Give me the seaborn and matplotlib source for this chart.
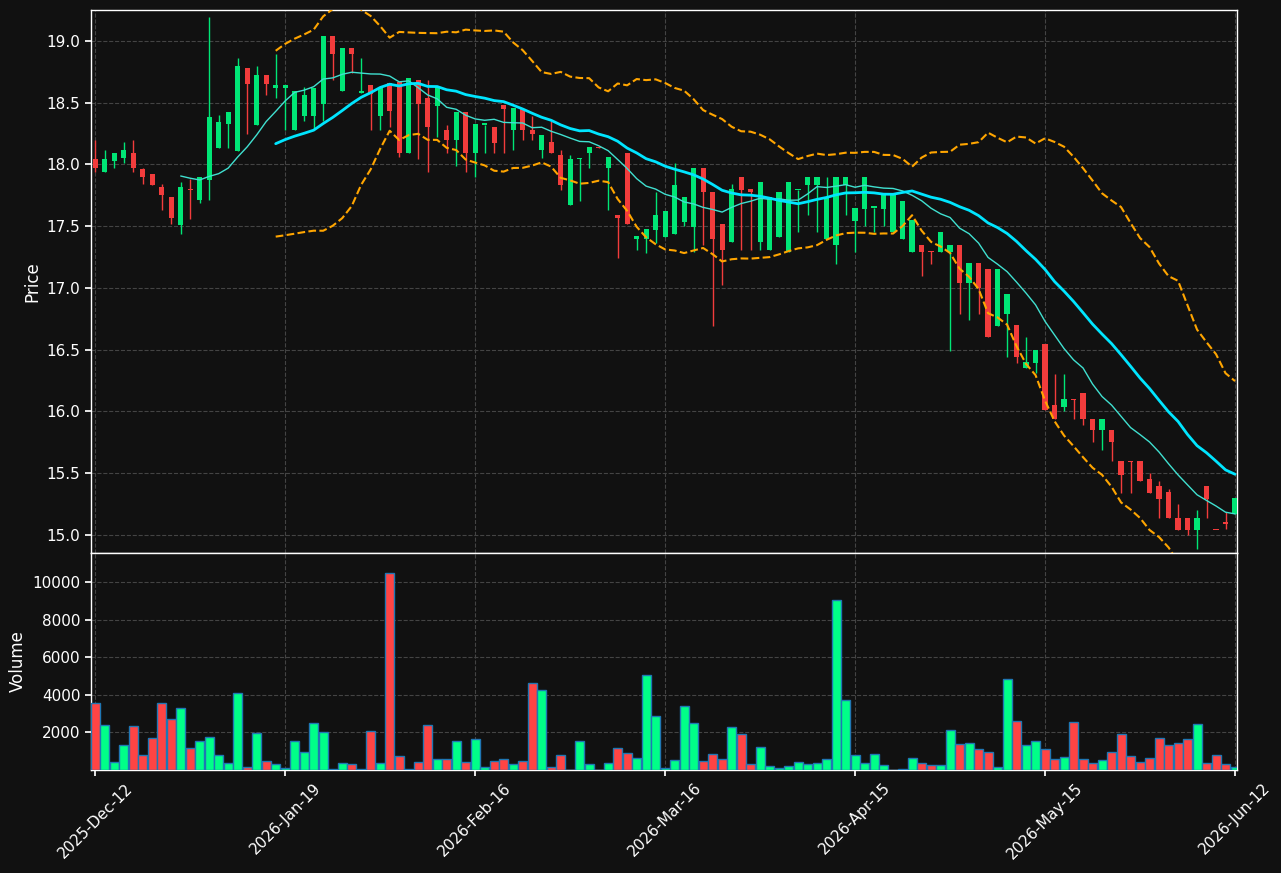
import matplotlib
matplotlib.use("Agg")
import matplotlib.pyplot as plt
import numpy as np
import pandas as pd
import seaborn as sns

# OHLC, one row per session
opens = [
    18.04, 17.94, 18.03, 18.05, 18.09, 17.96, 17.92, 17.82, 17.74, 17.51,
    17.80, 17.71, 17.87, 18.13, 18.33, 18.11, 18.78, 18.32, 18.72, 18.62,
    18.62, 18.28, 18.39, 18.39, 18.49, 19.04, 18.59, 18.94, 18.58, 18.64,
    18.39, 18.66, 18.67, 18.09, 18.68, 18.54, 18.47, 18.28, 18.20, 18.42,
    18.09, 18.32, 18.30, 18.48, 18.28, 18.45, 18.28, 18.12, 18.18, 18.08,
    17.67, 18.04, 18.09, 18.14, 17.97, 17.59, 18.09, 17.40, 17.40, 17.47,
    17.41, 17.44, 17.53, 17.49, 17.97, 17.78, 17.52, 17.37, 17.90, 17.80,
    17.37, 17.31, 17.41, 17.29, 17.79, 17.83, 17.83, 17.40, 17.35, 17.83,
    17.54, 17.64, 17.65, 17.64, 17.45, 17.40, 17.29, 17.35, 17.30, 17.29,
    17.29, 17.35, 17.04, 17.20, 17.15, 16.69, 16.79, 16.70, 16.35, 16.39,
    16.55, 16.05, 16.04, 16.10, 16.15, 15.94, 15.85, 15.85, 15.60, 15.60,
    15.60, 15.45, 15.40, 15.35, 15.14, 15.14, 15.04, 15.40, 15.05, 15.10,
    15.17,
]
highs = [
    18.20, 18.12, 18.09, 18.18, 18.20, 17.97, 17.92, 17.84, 17.74, 17.86,
    17.88, 17.90, 19.19, 18.40, 18.42, 18.86, 18.78, 18.80, 18.72, 18.89,
    18.64, 18.59, 18.63, 18.62, 19.04, 19.04, 18.94, 18.94, 18.86, 18.64,
    18.63, 18.66, 18.67, 18.70, 18.68, 18.68, 18.63, 18.32, 18.42, 18.42,
    18.33, 18.32, 18.30, 18.48, 18.46, 18.45, 18.39, 18.24, 18.35, 18.12,
    18.08, 18.05, 18.14, 18.14, 18.06, 17.59, 18.09, 17.42, 17.48, 17.78,
    17.62, 18.01, 17.74, 17.97, 17.97, 17.78, 17.52, 17.84, 17.90, 17.80,
    17.86, 17.74, 17.78, 17.86, 17.79, 17.90, 17.90, 17.90, 17.90, 17.90,
    17.65, 17.90, 17.65, 17.76, 17.76, 17.70, 17.55, 17.35, 17.30, 17.45,
    17.35, 17.35, 17.20, 17.20, 17.15, 17.15, 16.95, 16.70, 16.60, 16.50,
    16.55, 16.30, 16.30, 16.10, 16.15, 15.94, 15.94, 15.85, 15.60, 15.60,
    15.60, 15.50, 15.44, 15.37, 15.25, 15.14, 15.20, 15.40, 15.05, 15.19,
    15.30,
]
lows = [
    17.94, 17.94, 17.97, 18.01, 17.94, 17.84, 17.83, 17.63, 17.52, 17.44,
    17.56, 17.69, 17.71, 18.13, 18.13, 18.11, 18.25, 18.32, 18.56, 18.54,
    18.28, 18.28, 18.35, 18.29, 18.35, 18.68, 18.59, 18.74, 18.58, 18.28,
    18.28, 18.30, 18.06, 18.09, 18.04, 17.94, 18.22, 18.09, 17.99, 17.94,
    17.90, 18.09, 18.09, 18.09, 18.12, 18.20, 18.20, 18.05, 18.09, 17.79,
    17.67, 17.70, 17.97, 18.13, 17.63, 17.24, 17.52, 17.31, 17.28, 17.36,
    17.41, 17.44, 17.50, 17.29, 17.35, 16.69, 17.02, 17.37, 17.31, 17.31,
    17.31, 17.31, 17.41, 17.29, 17.45, 17.59, 17.45, 17.40, 17.19, 17.59,
    17.29, 17.50, 17.45, 17.50, 17.45, 17.40, 17.29, 17.10, 17.19, 17.29,
    16.49, 16.79, 16.74, 16.79, 16.60, 16.69, 16.44, 16.39, 16.35, 16.31,
    16.01, 15.94, 16.00, 15.94, 15.89, 15.75, 15.69, 15.60, 15.34, 15.34,
    15.44, 15.34, 15.14, 15.14, 15.04, 15.00, 14.89, 15.14, 15.05, 15.05,
    15.17,
]
closes = [
    17.97, 18.04, 18.09, 18.12, 17.97, 17.90, 17.83, 17.75, 17.57, 17.82,
    17.79, 17.90, 18.38, 18.34, 18.42, 18.80, 18.65, 18.72, 18.65, 18.64,
    18.64, 18.59, 18.56, 18.62, 19.04, 18.89, 18.94, 18.89, 18.58, 18.57,
    18.63, 18.43, 18.09, 18.70, 18.49, 18.30, 18.63, 18.20, 18.42, 18.09,
    18.33, 18.32, 18.17, 18.45, 18.46, 18.28, 18.25, 18.24, 18.09, 17.83,
    18.04, 18.05, 18.14, 18.13, 18.06, 17.57, 17.52, 17.42, 17.48, 17.59,
    17.62, 17.83, 17.74, 17.97, 17.78, 17.40, 17.31, 17.80, 17.79, 17.78,
    17.86, 17.74, 17.78, 17.86, 17.79, 17.90, 17.90, 17.73, 17.90, 17.90,
    17.65, 17.90, 17.65, 17.76, 17.76, 17.70, 17.55, 17.29, 17.29, 17.45,
    17.35, 17.04, 17.20, 17.00, 16.60, 17.15, 16.95, 16.44, 16.40, 16.50,
    16.01, 15.94, 16.10, 16.09, 15.94, 15.85, 15.94, 15.75, 15.49, 15.59,
    15.44, 15.34, 15.29, 15.14, 15.04, 15.04, 15.14, 15.29, 15.04, 15.09,
    15.30,
]
volumes = [
    3550, 2380, 410, 1310, 2330, 780, 1690, 3550, 2700, 3290,
    1150, 1530, 1740, 780, 355, 4090, 140, 1950, 460, 300,
    90, 1530, 940, 2490, 2010, 70, 355, 300, 70, 2060,
    355, 10480, 730, 70, 410, 2380, 570, 570, 1530, 410,
    1630, 140, 460, 570, 300, 460, 4620, 4240, 140, 780,
    10, 1530, 300, 10, 355, 1160, 890, 620, 5060, 2860,
    90, 515, 3390, 2490, 460, 835, 570, 2270, 1900, 300,
    1210, 195, 90, 195, 410, 300, 355, 570, 9040, 3710,
    780, 355, 835, 250, 0, 30, 620, 355, 250, 250,
    2110, 1370, 1420, 1100, 940, 140, 4830, 2590, 1310, 1530,
    1100, 570, 675, 2540, 570, 355, 515, 940, 1900, 730,
    410, 620, 1690, 1310, 1420, 1630, 2430, 355, 780, 300,
    140,
]
tick_labels = ["2025-Dec-12", "2026-Jan-19", "2026-Feb-16", "2026-Mar-16",
               "2026-Apr-15", "2026-May-15", "2026-Jun-12"]

BG = "#111111"
UP = "#00e676"
DOWN = "#f23c3c"
VOL_UP = "#00ff88"
VOL_DOWN = "#ff4444"

df = pd.DataFrame({"open": opens, "high": highs, "low": lows,
                   "close": closes, "volume": volumes})
df["idx"] = np.arange(len(df))
df["ma10"] = df["close"].rolling(10).mean()
df["ma20"] = df["close"].rolling(20).mean()
std20 = df["close"].rolling(20).std()
df["bb_up"] = df["ma20"] + 2 * std20
df["bb_lo"] = df["ma20"] - 2 * std20
up = df["close"] >= df["open"]
colors = np.where(up, UP, DOWN)
vol_colors = np.where(up, VOL_UP, VOL_DOWN)

sns.set_theme(style="dark", rc={
    "figure.facecolor": BG, "axes.facecolor": BG, "axes.edgecolor": "white",
    "text.color": "white", "axes.labelcolor": "white",
    "xtick.color": "white", "ytick.color": "white",
})
plt.rcParams["font.family"] = ["DejaVu Sans"]

fig = plt.figure(figsize=(12.81, 8.73), dpi=100)
ax = fig.add_axes([0.071, 0.3666, 0.8946, 0.622])
axv = fig.add_axes([0.071, 0.118, 0.8946, 0.2486], sharex=ax)

# candles
ax.vlines(df["idx"], df["low"], df["high"], colors=colors, linewidth=1, zorder=2)
body_lo = np.minimum(df["open"], df["close"])
body_h = np.maximum(np.abs(df["close"] - df["open"]), 0.012)
ax.bar(df["idx"], body_h, bottom=body_lo, width=0.55, color=colors,
       linewidth=0, edgecolor="none", zorder=3)

sns.lineplot(data=df, x="idx", y="ma10", ax=ax, color="#40e0d0", linewidth=1, zorder=4)
sns.lineplot(data=df, x="idx", y="ma20", ax=ax, color="#00e5ff", linewidth=2, zorder=4)
for col in ["bb_up", "bb_lo"]:
    sns.lineplot(data=df, x="idx", y=col, ax=ax, color="orange",
                 linewidth=1.5, linestyle="--", zorder=4)

ax.set_ylim(14.855, 19.25)
ax.set_yticks(np.arange(15.0, 19.01, 0.5))
ax.yaxis.set_major_formatter(matplotlib.ticker.FormatStrFormatter("%.1f"))
ax.set_ylabel("Price")
ax.set_xlabel("")
ax.grid(True, color="#444444", linestyle="--", linewidth=0.8)
ax.tick_params(axis="x", labelbottom=False, length=0)
ax.tick_params(axis="y", left=True, length=4)

# volume
axv.bar(df["idx"], df["volume"], width=0.95, color=vol_colors,
        edgecolor="#1f77b4", linewidth=1, zorder=3)
axv.set_ylim(0, 11570)
axv.set_yticks([2000, 4000, 6000, 8000, 10000])
axv.set_ylabel("Volume")
axv.grid(True, color="#444444", linestyle="--", linewidth=0.8)
axv.set_xlim(-0.45, 120.2)
axv.set_xticks(np.arange(0, 121, 20))
axv.set_xticklabels(tick_labels, rotation=45, ha="center", fontsize=11)
axv.tick_params(axis="both", bottom=True, left=True, length=4)
for a in (ax, axv):
    for s in a.spines.values():
        s.set_color("white")
        s.set_linewidth(1)
    a.tick_params(labelsize=11)

fig.savefig("out.png", dpi=100, facecolor=BG)
